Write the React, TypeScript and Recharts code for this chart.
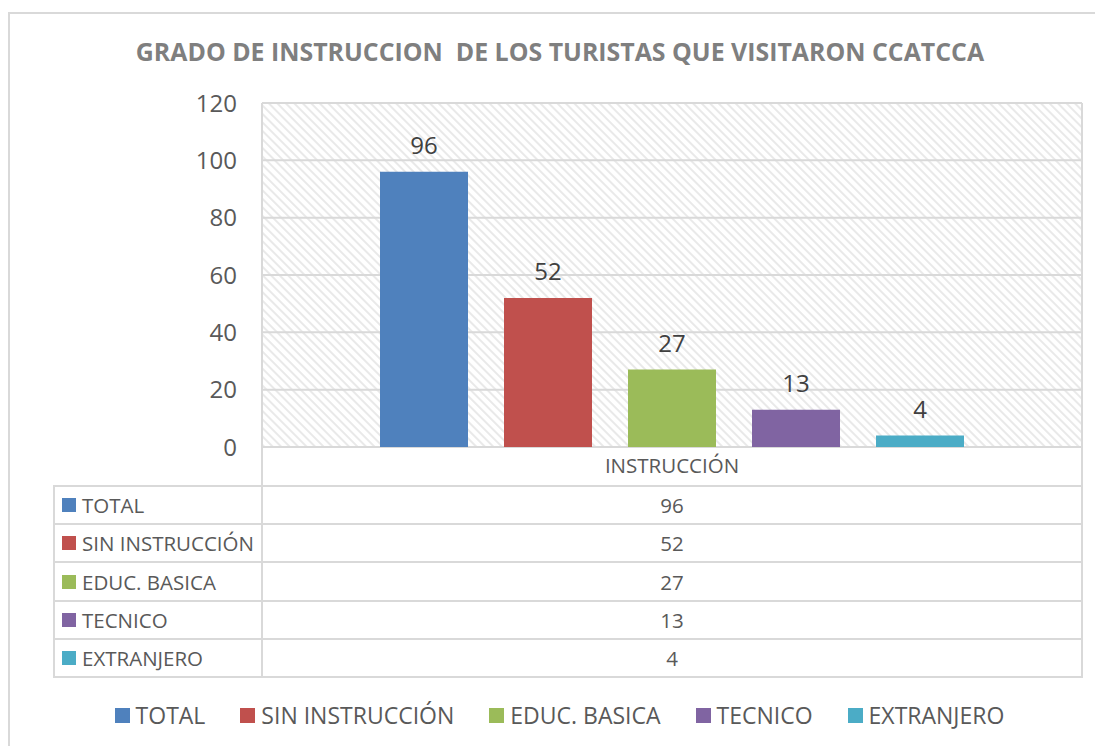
import React from 'react'
import { BarChart, Bar, XAxis, YAxis, CartesianGrid, LabelList, Legend } from 'recharts'

const categories = ['INSTRUCCIÓN']
const seriesNames = ['TOTAL', 'SIN INSTRUCCIÓN', 'EDUC. BASICA', 'TECNICO', 'EXTRANJERO']
const seriesValues = [96, 52, 27, 13, 4]
const seriesColors = ['#4f81bd', '#c0504d', '#9bbb59', '#8064a2', '#4bacc6']
const yTicks = [0, 20, 40, 60, 80, 100, 120]
const title = 'GRADO DE INSTRUCCION  DE LOS TURISTAS QUE VISITARON CCATCCA'

const data = categories.map((name) => {
  const row: Record<string, string | number> = { name }
  seriesNames.forEach((_, i) => {
    row['s' + i] = seriesValues[i]
  })
  return row
})

const FONT = '"Open Sans", sans-serif'
const TEXT = '#595959'
const LINE = '#d9d9d9'

function LegendContent({ payload }: any) {
  // keep the series order, recharts sorts legend items by name
  const items = [...(payload || [])].sort(
    (a: any, b: any) => seriesNames.indexOf(a.value) - seriesNames.indexOf(b.value),
  )
  return (
    <div style={{ display: 'flex', justifyContent: 'center', alignItems: 'center', gap: 35 }}>
      {items.map((p: any) => (
        <div key={p.value} style={{ display: 'flex', alignItems: 'center' }}>
          <span style={{ width: 15, height: 15, background: p.color, marginRight: 6 }} />
          <span style={{ fontSize: 23, lineHeight: '24px', color: TEXT, fontFamily: FONT }}>{p.value}</span>
        </div>
      ))}
    </div>
  )
}

function DataTable() {
  return (
    <>
      <div
        style={{
          position: 'absolute',
          left: 261,
          top: 447,
          width: 822,
          height: 39,
          boxSizing: 'border-box',
          borderLeft: `2px solid ${LINE}`,
          borderRight: `2px solid ${LINE}`,
        }}
      />
      <div
        style={{
          position: 'absolute',
          left: 53,
          top: 485,
          width: 1030,
          height: 193,
          boxSizing: 'border-box',
          border: `2px solid ${LINE}`,
          display: 'flex',
          flexDirection: 'column',
          fontFamily: FONT,
          color: TEXT,
        }}
      >
        {seriesNames.map((name, i) => (
          <div
            key={name}
            style={{
              flex: 1,
              display: 'flex',
              borderTop: i === 0 ? 'none' : `2px solid ${LINE}`,
            }}
          >
            <div
              style={{
                width: 208,
                boxSizing: 'border-box',
                display: 'flex',
                alignItems: 'center',
                paddingLeft: 7,
                borderRight: `2px solid ${LINE}`,
                fontSize: 20.5,
                whiteSpace: 'nowrap',
              }}
            >
              <span style={{ width: 14, height: 14, background: seriesColors[i], marginRight: 6, flexShrink: 0 }} />
              {name}
            </div>
            <div style={{ flex: 1, display: 'flex', alignItems: 'center', justifyContent: 'center', fontSize: 20.5 }}>
              {seriesValues[i]}
            </div>
          </div>
        ))}
      </div>
    </>
  )
}

export default function App() {
  return (
    <div
      style={{
        position: 'absolute',
        left: 0,
        top: 0,
        width: 1095,
        height: 746,
        overflow: 'hidden',
        background: '#fff',
      }}
    >
      <div
        style={{
          position: 'absolute',
          left: 8,
          top: 12,
          width: 1200,
          height: 900,
          border: `2px solid ${LINE}`,
        }}
      />
      <div
        style={{
          position: 'absolute',
          left: 0,
          top: 39,
          width: 1120,
          textAlign: 'center',
          whiteSpace: 'pre',
          fontFamily: FONT,
          fontWeight: 700,
          fontSize: 24.9,
          lineHeight: 1,
          color: '#7f7f7f',
        }}
      >
        {title}
      </div>
      <DataTable />
      <div style={{ position: 'absolute', left: 0, top: 0 }}>
        <BarChart
          width={1095}
          height={746}
          data={data}
          margin={{ top: 103, right: 0, bottom: 260, left: 0 }}
          barGap={36}
        >
          <defs>
            <pattern
              id="hatch"
              patternUnits="userSpaceOnUse"
              width={6}
              height={6}
              patternTransform="rotate(45)"
            >
              <rect width={6} height={6} fill="#ffffff" />
              <line x1={0} y1={3} x2={6} y2={3} stroke="#dedede" strokeWidth={1.3} />
            </pattern>
          </defs>
          <CartesianGrid vertical={false} stroke={LINE} strokeWidth={2} fill="url(#hatch)" fillOpacity={1} />
          <XAxis
            dataKey="name"
            height={39}
            axisLine={false}
            tickLine={false}
            tickSize={0}
            tickMargin={11}
            tick={{ fill: TEXT, fontSize: 20.5, fontFamily: FONT }}
          />
          <YAxis
            width={262}
            domain={[0, 120]}
            ticks={yTicks}
            interval={0}
            tickLine={false}
            tickSize={0}
            tickMargin={25}
            axisLine={{ stroke: LINE, strokeWidth: 2 }}
            tick={{ fill: TEXT, fontSize: 24, fontFamily: FONT }}
          />
          <YAxis
            yAxisId="r"
            orientation="right"
            width={13}
            domain={[0, 120]}
            tick={false}
            tickLine={false}
            axisLine={{ stroke: LINE, strokeWidth: 2 }}
          />
          <Legend
            layout="horizontal"
            verticalAlign="middle"
            align="center"
            content={<LegendContent />}
            wrapperStyle={{ top: 703, left: 0, width: 1119, height: 24 }}
          />
          {seriesNames.map((name, i) => (
            <Bar
              key={name}
              dataKey={'s' + i}
              name={name}
              fill={seriesColors[i]}
              barSize={88}
              isAnimationActive={false}
            >
              <LabelList
                dataKey={'s' + i}
                position="top"
                offset={18}
                fill="#404040"
                fontSize={24}
                fontFamily={FONT}
              />
            </Bar>
          ))}
        </BarChart>
      </div>
    </div>
  )
}
